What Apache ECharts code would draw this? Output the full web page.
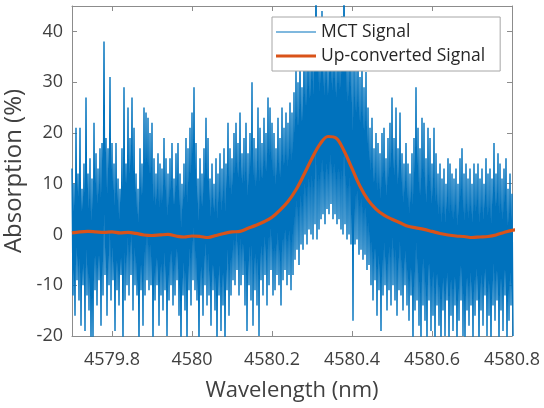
<!DOCTYPE html>
<html>
<head>
<meta charset="utf-8">
<script src="https://cdn.jsdelivr.net/npm/echarts@6/dist/echarts.min.js"></script>
<style>html,body{margin:0;padding:0;background:#fff}#c{width:544px;height:408px}</style>
</head>
<body>
<div id="c"></div>
<script>
// MCT signal: upper and lower extremes read per 0.005 nm column, starting at 4579.70 nm
const mctStart = 4579.70;
const mctStep = 0.005;
const mctUpper = [13,10,21,12,21,9,14,27,12,15,11,22,16,13,17,18,38,19,17,31,18,14,18,11,9,17,29,14,25,19,27,21,12,9,17,14,25,24,23,20,22,15,12,16,14,13,19,15,12,15,18,11,16,18,12,10,14,19,17,21,24,29,18,11,15,12,17,23,19,11,14,10,15,12,16,13,17,14,22,17,15,20,22,18,24,16,19,22,16,20,30,19,17,25,21,18,23,20,27,25,22,20,17,23,19,25,21,24,22,26,24,28,33,30,36,29,38,34,40,35,42,37,55,41,38,44,36,40,34,42,37,41,35,40,38,43,55,39,36,41,34,38,33,36,31,34,29,32,25,21,23,17,20,18,16,20,21,15,19,22,27,19,25,17,24,16,14,18,14,12,16,19,29,21,17,23,22,15,21,19,14,21,16,12,14,11,13,10,15,14,12,11,13,10,15,17,12,14,11,13,10,14,12,14,11,13,10,15,12,13,11,18,12,16,14,11,13,15,9,12,8];
const mctLower = [-12,-16,-9,-13,-18,-10,-19,-12,-15,-22,-21,-11,-14,-9,-18,-12,-8,-16,-10,-13,-9,-19,-11,-14,-8,-22,-13,-10,-12,-8,-15,-10,-12,-22,-11,-18,-12,-9,-11,-10,-22,-13,-10,-18,-12,-15,-11,-20,-13,-10,-14,-12,-9,-16,-22,-12,-15,-22,-11,-14,-9,-11,-13,-22,-12,-16,-10,-14,-12,-18,-11,-15,-22,-12,-19,-14,-22,-11,-16,-12,-9,-10,-7,-12,-10,-8,-14,-19,-10,-13,-18,-11,-14,-20,-9,-12,-8,-14,-10,-7,-12,-11,-8,-10,-14,-9,-7,-10,-8,-11,-8,-5,-3,-6,-2,-3,0,-2,1,0,-1,2,-1,1,3,4,2,5,4,6,3,4,2,3,1,0,2,-1,0,-2,-17,-2,-1,-4,-3,-5,-4,-7,-6,-10,-13,-9,-16,-11,-19,-12,-10,-15,-11,-14,-10,-13,-16,-11,-12,-15,-10,-14,-17,-12,-22,-15,-13,-18,-22,-14,-17,-22,-13,-19,-16,-22,-14,-18,-22,-15,-20,-13,-22,-16,-19,-14,-22,-17,-13,-20,-22,-15,-18,-14,-21,-16,-13,-22,-15,-18,-12,-20,-16,-22,-14,-17,-13,-22,-15,-19,-12,-22,-17,-14,-20];

// Up-converted signal
const upWavelength = [4579.70,4579.72,4579.74,4579.76,4579.78,4579.80,4579.82,4579.84,4579.86,4579.88,4579.90,4579.92,4579.94,4579.96,4579.98,4580.00,4580.02,4580.04,4580.06,4580.08,4580.10,4580.12,4580.14,4580.16,4580.18,4580.20,4580.22,4580.24,4580.26,4580.28,4580.30,4580.32,4580.34,4580.36,4580.38,4580.40,4580.42,4580.44,4580.46,4580.48,4580.50,4580.52,4580.54,4580.56,4580.58,4580.60,4580.62,4580.64,4580.66,4580.68,4580.70,4580.72,4580.74,4580.76,4580.78,4580.80,4580.82];
const upValues = [0.3,0.5,0.6,0.5,0.4,0.5,0.3,0.4,0.2,-0.1,-0.2,-0.1,0.0,-0.3,-0.5,-0.3,-0.4,-0.6,-0.2,0.2,0.5,0.6,1.2,1.8,2.5,3.4,4.8,6.5,8.8,11.8,15.0,17.8,19.3,19.0,16.5,13.0,9.5,6.8,5.0,3.8,3.0,2.3,1.6,1.3,1.0,0.6,0.2,-0.1,-0.3,-0.4,-0.6,-0.5,-0.4,-0.1,0.4,0.8,1.0];

const xTicks = [4579.8, 4580, 4580.2, 4580.4, 4580.6, 4580.8];
const yTicks = [-20, -10, 0, 10, 20, 30, 40];

const mctData = [];
for (let i = 0; i < mctUpper.length; i++) {
  const w = mctStart + i * mctStep;
  mctData.push([w, mctUpper[i]]);
  mctData.push([w + mctStep / 2, mctLower[i]]);
}
const upData = upWavelength.map((w, i) => [w, upValues[i]]);

const FONT = '"Open Sans", "Noto Sans", sans-serif';
const axisCol = '#8c8c8c';
const txtCol = '#404040';
const chart = echarts.init(document.getElementById('c'), null, {renderer: 'canvas'});
const xMin = 4579.7, xMax = 4580.8, yMin = -20, yMax = 45;
const baseX = {
  type: 'value', min: xMin, max: xMax,
  axisLine: {show: true, onZero: false, lineStyle: {color: axisCol, width: 1}},
  axisTick: {show: true, inside: true, length: 5, customValues: xTicks, lineStyle: {color: axisCol}},
  splitLine: {show: false}
};
const baseY = {
  type: 'value', min: yMin, max: yMax,
  axisLine: {show: true, onZero: false, lineStyle: {color: axisCol, width: 1}},
  axisTick: {show: true, inside: true, length: 5, customValues: yTicks, lineStyle: {color: axisCol}},
  splitLine: {show: false}
};
chart.setOption({
  animation: false,
  backgroundColor: '#fff',
  grid: {left: 72, right: 32, top: 6, bottom: 72, containLabel: false, outerBoundsMode: 'none'},
  xAxis: [
    Object.assign({}, baseX, {
      position: 'bottom',
      name: 'Wavelength (nm)', nameLocation: 'middle', nameGap: 44,
      nameTextStyle: {fontFamily: FONT, fontSize: 22, color: txtCol},
      axisLabel: {show: true, customValues: xTicks, margin: 15, fontFamily: FONT, fontSize: 18, color: txtCol,
        formatter: v => String(Math.round(v * 10) / 10)}
    }),
    Object.assign({}, baseX, {position: 'top', axisLabel: {show: false}})
  ],
  yAxis: [
    Object.assign({}, baseY, {
      position: 'left',
      name: 'Absorption (%)', nameLocation: 'middle', nameGap: 39,
      nameTextStyle: {fontFamily: FONT, fontSize: 24, color: txtCol},
      axisLabel: {show: true, customValues: yTicks, margin: 9, fontFamily: FONT, fontSize: 18, color: txtCol}
    }),
    Object.assign({}, baseY, {position: 'right', axisLabel: {show: false}})
  ],
  legend: {
    show: true, orient: 'vertical', left: 272, top: 17,
    backgroundColor: '#fff', borderColor: '#a6a6a6', borderWidth: 1,
    padding: [6, 15, 6, 4], itemGap: 6, itemWidth: 40, itemHeight: 20,
    textStyle: {fontFamily: FONT, fontSize: 17.5, color: '#262626'},
    data: [
      {name: 'MCT Signal', icon: 'path://M0,10L40,10L40,11L0,11Z'},
      {name: 'Up-converted Signal', icon: 'path://M0,9L40,9L40,12L0,12Z'}
    ]
  },
  series: [
    {name: 'MCT Signal', type: 'line', data: mctData, symbol: 'none', clip: true,
      lineStyle: {color: '#0072BD', width: 1.4}, itemStyle: {color: '#0072BD'}, z: 2},
    {name: 'Up-converted Signal', type: 'line', data: upData, symbol: 'none', clip: true, smooth: 0.35,
      lineStyle: {color: '#D95319', width: 3.2}, itemStyle: {color: '#D95319'}, z: 3}
  ]
});
</script>
</body>
</html>
